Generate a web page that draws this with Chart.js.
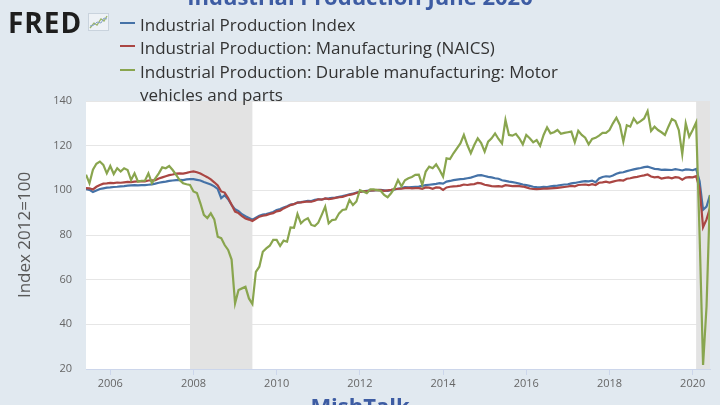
<!DOCTYPE html>
<html>
<head>
<meta charset="utf-8">
<script src="https://cdn.jsdelivr.net/npm/chart.js@4.4.1/dist/chart.umd.min.js"></script>
<style>
  html, body { margin: 0; padding: 0; }
  body {
    width: 720px; height: 405px; overflow: hidden; position: relative;
    background: #e1e9f0; font-family: "Open Sans", "DejaVu Sans", sans-serif;
  }
  #chart { position: absolute; left: 0; top: 0; }
  .headline {
    position: absolute; left: 0; width: 720px; text-align: center;
    font-weight: bold; font-size: 22px; line-height: 22px; color: #3d5ca3; white-space: nowrap;
  }
  .fred {
    position: absolute; left: 8px; top: 8px; font-weight: bold; font-size: 28px;
    line-height: 28px; color: #1e1e1e; letter-spacing: 1px;
  }
  .fred-icon { position: absolute; left: 88px; top: 13px; }
  .legend {
    position: absolute; left: 140px; top: 12.6px; font-size: 17px; line-height: 23.5px;
    color: #333; white-space: nowrap;
  }
  .swatch { position: absolute; left: 120px; width: 15px; height: 2px; }
</style>
</head>
<body>
<canvas id="chart" width="720" height="405"></canvas>
<div class="headline" style="top:-15px">Industrial Production June 2020</div>
<div class="fred">FRED</div>
<svg class="fred-icon" width="21" height="18" viewBox="0 0 21 18">
  <rect x="0.5" y="0.5" width="20" height="17" fill="#eef2f6" stroke="#c9d3dd"/>
  <polyline points="2,15 6,10 9,12 13,6 16,8 19,3" fill="none" stroke="#9bb66a" stroke-width="1.3"/>
  <polyline points="2,13 6,12 9,9 13,10 16,5 19,6" fill="none" stroke="#8aa4c8" stroke-width="1"/>
</svg>
<div class="swatch" style="top:21.5px;background:#4572a7"></div>
<div class="swatch" style="top:45px;background:#aa4643"></div>
<div class="swatch" style="top:68.5px;background:#89a54e"></div>
<div class="legend">
  Industrial Production Index<br>
  Industrial Production: Manufacturing (NAICS)<br>
  Industrial Production: Durable manufacturing: Motor<br>
  vehicles and parts
</div>
<div class="headline" style="top:394px">MishTalk</div>

<script>
// -------------------------------------------------------------
// DATA (monthly, Jun 2005 .. Jun 2020, index 2012=100)
// -------------------------------------------------------------
const startYear = 2005;
const startMonth = 6;

const tickYears = [2006, 2008, 2010, 2012, 2014, 2016, 2018, 2020];
const yTicks = [20, 40, 60, 80, 100, 120, 140];

const recessionStart = ["2007-12", "2020-02"];
const recessionEnd = ["2009-06", "2020-06"];

const ipIndex = [
  100.5, 100.2, 99.2, 99.9, 100.6, 100.9, 101.2,
  101.3, 101.5, 101.6, 101.8, 101.9, 102.1, 102.2, 102.3, 102.2, 102.3, 102.3, 102.5,
  102.7, 103.0, 103.4, 103.7, 103.9, 104.2, 104.4, 104.6, 104.7, 104.6, 104.9, 105.0,
  105.0, 104.7, 104.4, 103.7, 103.2, 102.6, 101.8, 100.6, 96.5, 97.8, 96.0, 93.5,
  91.5, 90.7, 89.3, 88.4, 87.6, 86.8, 87.7, 88.6, 89.1, 89.4, 89.8, 90.3,
  91.2, 91.6, 92.3, 92.9, 93.6, 93.9, 94.5, 94.7, 95.0, 95.3, 95.2, 95.7,
  96.0, 95.9, 96.3, 96.4, 96.6, 96.8, 97.1, 97.4, 97.8, 98.2, 98.5, 99.0,
  99.3, 99.6, 99.8, 99.9, 100.0, 100.1, 100.2, 100.0, 99.8, 100.1, 100.4, 100.7,
  101.0, 101.4, 101.3, 101.5, 101.6, 101.7, 102.0, 102.3, 102.5, 102.7, 102.9, 103.2,
  103.0, 103.9, 104.2, 104.6, 104.8, 105.0, 105.1, 105.4, 105.7, 106.2, 106.7, 106.8,
  106.4, 106.0, 105.8, 105.4, 105.2, 104.5, 104.2, 103.9, 103.7, 103.4, 103.0, 102.6,
  102.3, 102.0, 101.6, 101.4, 101.3, 101.6, 101.5, 101.8, 102.0, 102.1, 102.4, 102.6,
  102.7, 103.1, 103.3, 103.6, 103.9, 104.1, 104.0, 104.3, 103.6, 105.3, 106.0, 106.3,
  106.1, 106.6, 107.4, 107.9, 108.1, 108.6, 109.0, 109.4, 109.7, 110.0, 110.4, 110.6,
  110.1, 109.6, 109.5, 109.2, 109.3, 109.2, 109.1, 109.5, 109.2, 108.9, 109.4, 109.3,
  109.0, 109.6, 104.1, 91.3, 92.7, 97.9
];

const ipManufacturing = [
  101.0, 100.9, 100.4, 101.6, 102.4, 103.0, 103.1,
  103.3, 103.2, 103.5, 103.4, 103.6, 103.8, 103.7, 103.9, 104.0, 104.1, 104.0, 104.4,
  104.5, 104.6, 105.3, 105.8, 106.3, 106.8, 107.1, 107.5, 107.6, 107.5, 107.8, 108.2,
  108.5, 108.1, 107.5, 106.7, 105.9, 104.9, 103.6, 102.2, 99.5, 99.0, 96.6, 93.5,
  90.5, 89.8, 88.4, 87.4, 86.9, 86.3, 87.2, 88.2, 88.6, 88.9, 89.4, 89.8,
  90.6, 90.9, 91.9, 92.6, 93.4, 93.8, 94.5, 94.6, 94.8, 95.0, 94.9, 95.3,
  96.0, 95.8, 96.4, 96.1, 96.3, 96.6, 96.9, 97.1, 97.6, 98.0, 98.3, 98.8,
  99.3, 99.6, 99.6, 100.0, 100.0, 100.2, 100.1, 99.8, 100.0, 100.2, 100.5, 100.7,
  100.7, 101.0, 101.1, 100.9, 101.0, 101.0, 100.7, 101.3, 101.2, 100.7, 101.3, 101.2,
  100.2, 101.3, 101.6, 101.8, 101.9, 102.1, 102.6, 102.4, 102.7, 102.8, 103.3, 103.1,
  102.5, 102.2, 101.9, 101.8, 101.9, 101.7, 102.3, 102.1, 101.9, 102.0, 101.9, 101.7,
  101.3, 100.8, 100.6, 100.5, 100.6, 100.8, 100.8, 100.9, 101.0, 101.1, 101.3, 101.5,
  101.7, 102.0, 101.8, 102.4, 102.5, 102.6, 102.3, 102.8, 102.4, 103.4, 103.6, 103.9,
  103.5, 103.9, 104.3, 104.6, 104.4, 105.2, 105.4, 105.8, 106.0, 106.4, 106.7, 107.1,
  106.2, 105.8, 106.0, 105.3, 105.6, 105.8, 105.4, 105.9, 105.7, 104.8, 105.7, 105.9,
  105.8, 106.3, 101.0, 83.5, 87.0, 92.0
];

const ipMotorVehicles = [
  107.0, 103.2, 109.2, 111.9, 112.9, 111.4, 107.6,
  110.9, 107.3, 109.9, 108.4, 109.9, 109.1, 104.6, 107.6, 103.9, 104.3, 104.3, 107.6,
  103.2, 105.4, 107.6, 110.3, 109.9, 110.9, 109.1, 106.9, 104.6, 103.2, 102.7, 102.4,
  99.5, 98.8, 94.2, 89.0, 87.6, 89.7, 87.0, 79.2, 78.6, 75.5, 73.3, 69.0,
  49.4, 55.4, 56.1, 56.8, 51.6, 49.1, 63.5, 65.8, 72.5, 74.0, 75.2, 77.8,
  77.8, 75.1, 77.5, 77.0, 83.4, 83.2, 89.4, 85.2, 86.7, 87.5, 84.5, 84.0,
  85.5, 89.0, 92.7, 85.2, 86.7, 86.9, 89.7, 91.2, 91.5, 95.7, 93.4, 95.0,
  100.1, 99.5, 98.7, 100.4, 100.4, 100.1, 99.8, 97.9, 96.9, 98.7, 101.0, 104.6,
  101.8, 104.5, 105.4, 106.0, 106.9, 107.0, 102.4, 108.4, 110.6, 109.9, 111.6, 109.1,
  106.1, 114.3, 114.0, 116.6, 118.8, 121.0, 124.8, 120.3, 116.6, 120.3, 123.3, 121.2,
  117.3, 121.8, 123.3, 125.5, 123.0, 121.0, 131.5, 124.8, 124.5, 125.3, 123.3, 120.6,
  124.8, 123.3, 121.5, 122.5, 119.9, 124.8, 128.2, 125.5, 126.0, 127.0, 125.3, 125.7,
  126.0, 126.3, 121.5, 126.7, 124.8, 123.6, 120.6, 123.0, 123.5, 124.5, 125.7, 125.7,
  127.0, 130.0, 132.5, 129.3, 121.8, 129.1, 128.5, 132.2, 130.0, 131.0, 132.2, 135.5,
  126.6, 128.5, 127.0, 126.0, 124.8, 128.5, 131.9, 131.0, 127.0, 116.1, 130.0, 124.0,
  127.0, 130.4, 80.0, 21.8, 48.0, 97.9
];

// -------------------------------------------------------------
// HELPERS
// -------------------------------------------------------------
const monthToX = i => startYear + (startMonth - 1 + i) / 12;
const ymToX = s => {
  const [y, m] = s.split("-").map(Number);
  return y + (m - 1) / 12;
};
const points = arr => arr.map((v, i) => ({ x: monthToX(i), y: v }));

const series = [
  { label: "Industrial Production Index", data: ipIndex, color: "#4572a7", order: 3 },
  { label: "Industrial Production: Manufacturing (NAICS)", data: ipManufacturing, color: "#aa4643", order: 2 },
  { label: "Industrial Production: Durable manufacturing: Motor vehicles and parts", data: ipMotorVehicles, color: "#89a54e", order: 1 }
];

// white plot area + recession bands (bands drawn over the grid, under the lines)
const plotBands = {
  id: "plotBands",
  beforeDraw(chart) {
    const { ctx, chartArea: a } = chart;
    ctx.save();
    ctx.fillStyle = "#ffffff";
    ctx.fillRect(a.left, a.top, a.right - a.left, a.bottom - a.top);
    ctx.restore();
  },
  beforeDatasetsDraw(chart) {
    const { ctx, chartArea: a, scales: { x } } = chart;
    ctx.save();
    ctx.fillStyle = "#e3e3e3";
    recessionStart.forEach((s, k) => {
      const x0 = x.getPixelForValue(ymToX(s));
      const x1 = x.getPixelForValue(ymToX(recessionEnd[k]));
      ctx.fillRect(x0, a.top, x1 - x0, a.bottom - a.top);
    });
    ctx.restore();
  }
};

// -------------------------------------------------------------
// CHART
// -------------------------------------------------------------
new Chart(document.getElementById("chart"), {
  type: "line",
  data: {
    datasets: series.map(s => ({
      label: s.label,
      data: points(s.data),
      borderColor: s.color,
      borderWidth: 2.2,
      pointRadius: 0,
      tension: 0,
      order: s.order
    }))
  },
  options: {
    responsive: false,
    animation: false,
    devicePixelRatio: 1,
    layout: { padding: { top: 101, right: 10, left: 0, bottom: 0 } },
    plugins: { legend: { display: false }, tooltip: { enabled: false } },
    scales: {
      x: {
        type: "linear",
        min: monthToX(0),
        max: monthToX(ipIndex.length - 1),
        afterBuildTicks: scale => { scale.ticks = tickYears.map(v => ({ value: v })); },
        afterFit: scale => { scale.height = 36; },
        grid: { drawOnChartArea: false, tickLength: 6, color: "#ccd6eb" },
        border: { color: "#ccd6eb" },
        ticks: {
          autoSkip: false, maxRotation: 0, padding: 2, color: "#666",
          font: { family: "Open Sans", size: 11 },
          callback: v => String(v)
        }
      },
      y: {
        min: yTicks[0],
        max: yTicks[yTicks.length - 1],
        afterBuildTicks: scale => { scale.ticks = yTicks.map(v => ({ value: v })); },
        afterFit: scale => { scale.width = 86; },
        grid: { color: "#e6e6e6", drawTicks: false },
        border: { display: false },
        ticks: { padding: 14, color: "#666", font: { family: "Open Sans", size: 11 } },
        title: {
          display: true,
          text: "Index 2012=100",
          color: "#595959",
          font: { family: "Open Sans", size: 17 },
          padding: { top: 15, bottom: 0 }
        }
      }
    }
  },
  plugins: [plotBands]
});
</script>
</body>
</html>
